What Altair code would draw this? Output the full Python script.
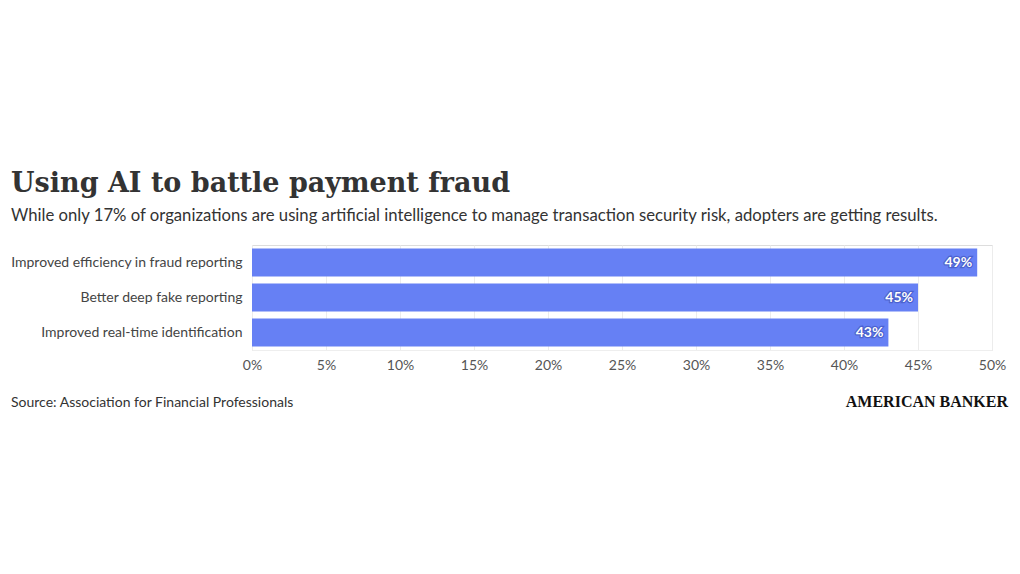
import altair as alt
import pandas as pd

categories = ["Improved efficiency in fraud reporting", "Better deep fake reporting", "Improved real-time identification"]
values = [49, 45, 43]
tick_values = [0, 5, 10, 15, 20, 25, 30, 35, 40, 45, 50]

df = pd.DataFrame({"category": categories, "value": values, "label": [f"{v}%" for v in values]})
note = pd.DataFrame({"source": ["Source: Association for Financial Professionals"], "logo": ["AMERICAN BANKER"]})

BAR = "#6680f4"

base = alt.Chart(df)
y_enc = alt.Y("category:N", sort=categories, title=None,
              scale=alt.Scale(paddingInner=0.2, paddingOuter=0.1),
              axis=alt.Axis(labelFont="Lato", labelFontSize=14, labelColor="#444", labelPadding=10,
                            ticks=False, domain=False, grid=False, labelLimit=300))
x_enc = alt.X("value:Q", title=None, scale=alt.Scale(domain=[0, 50], nice=False),
              axis=alt.Axis(values=tick_values, labelExpr="datum.value + '%'", labelFont="Lato",
                            labelFontSize=14, labelColor="#555", labelPadding=8, ticks=False, labelFlush=False,
                            domain=True, domainColor="#eeeeee", gridColor="#ececec", grid=True))

bars = base.mark_bar(color=BAR, opacity=1).encode(x=x_enc, y=y_enc)
shadow = base.mark_text(align="right", baseline="middle", dx=-5, font="Lato", fontSize=14, fontWeight="bold",
                        color="#3b4fb8", stroke="#3b4fb8", strokeWidth=2.5, strokeOpacity=0.6).encode(
    x="value:Q", y=alt.Y("category:N", sort=categories), text="label:N")
labels = base.mark_text(align="right", baseline="middle", dx=-5, font="Lato", fontSize=14, fontWeight="bold",
                        color="white").encode(
    x="value:Q", y=alt.Y("category:N", sort=categories), text="label:N")

source = alt.Chart(note).mark_text(align="left", baseline="middle", font="Lato", fontSize=14, color="#333").encode(
    x=alt.value(-241), y=alt.value(158), text="source:N")
logo = alt.Chart(note).mark_text(align="right", baseline="middle", font="Liberation Serif", fontSize=16,
                                 fontWeight="bold", color="#111").encode(
    x=alt.value(756), y=alt.value(157), text="logo:N")

chart = alt.layer(bars, shadow, labels, source, logo).properties(
    width=740, height=105,
    autosize=alt.AutoSizeParams(type="none"),
    padding={"left": 244, "top": 237, "right": 20, "bottom": 216},
    title=alt.TitleParams(
        text="Using AI to battle payment fraud",
        subtitle="While only 17% of organizations are using artificial intelligence to manage transaction security risk, adopters are getting results.",
        anchor="start", frame="group", dx=-241, offset=19,
        font="DejaVu Serif", fontSize=27, fontWeight="bold", color="#333",
        subtitleFont="Lato", subtitleFontSize=16.7, subtitleColor="#333", subtitlePadding=10,
    ),
).configure_view(stroke=None).configure(background="white")

chart.save("out.html", embed_options={"renderer": "svg", "actions": False})
